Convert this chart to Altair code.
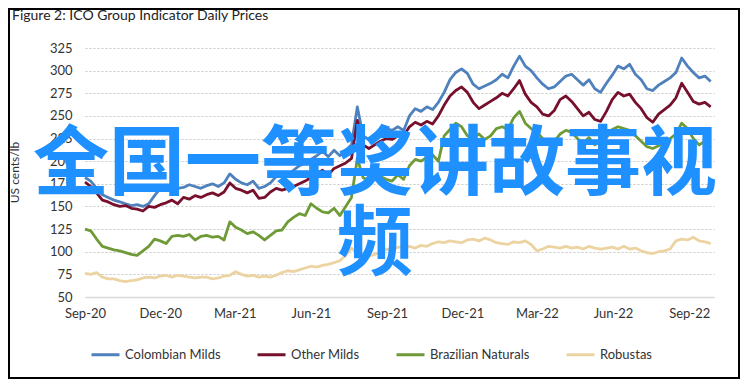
import altair as alt
import pandas as pd

# weekly samples starting 2020-09-01
n_points = 109
dates = pd.date_range("2020-09-01", periods=n_points, freq="7D").strftime("%Y-%m-%d").tolist()

series_names = ["Colombian Milds", "Other Milds", "Brazilian Naturals", "Robustas"]
series_colors = ["#4F81BD", "#76102C", "#6E9B38", "#ECD4A2"]

colombian = [
    182, 178, 170, 163, 160, 157, 155, 153, 151, 152,
    150, 153, 162, 170, 168, 172, 170, 171, 174, 172,
    170, 173, 175, 172, 176, 186, 180, 176, 174, 178,
    170, 172, 176, 183, 186, 185, 190, 195, 198, 202,
    206, 211, 205, 212, 206, 212, 218, 260, 228, 224,
    228, 232, 236, 234, 238, 234, 250, 258, 255, 260,
    257, 265, 276, 290, 298, 302, 297, 285, 280, 283,
    286, 290, 296, 292, 305, 316, 305, 300, 292, 285,
    280, 282, 288, 294, 296, 290, 284, 290, 280, 276,
    286, 295, 305, 302, 307, 296, 290, 280, 278, 284,
    288, 292, 298, 314, 305, 298, 292, 294, 288,
]
other = [
    177, 172, 165, 157, 155, 152, 150, 151, 148, 147,
    145, 150, 149, 152, 154, 157, 153, 160, 158, 162,
    160, 163, 165, 162, 166, 176, 170, 168, 165, 168,
    159, 160, 166, 170, 168, 170, 172, 175, 178, 182,
    186, 190, 185, 192, 195, 198, 203, 245, 218, 214,
    218, 222, 225, 224, 228, 228, 238, 243, 240, 244,
    241, 250, 262, 272, 278, 282, 276, 265, 258, 262,
    266, 270, 275, 272, 280, 289, 274, 265, 260, 252,
    250, 256, 268, 272, 266, 258, 250, 254, 246, 244,
    255, 268, 276, 272, 274, 265, 258, 248, 243, 252,
    257, 262, 270, 286, 276, 266, 263, 265, 260,
]
brazilian = [
    125, 123, 114, 106, 104, 102, 101, 99, 97, 96,
    101, 106, 114, 112, 109, 117, 118, 117, 119, 113,
    117, 118, 116, 117, 113, 133, 127, 124, 120, 122,
    118, 113, 118, 123, 124, 133, 138, 142, 140, 153,
    148, 144, 143, 148, 140, 150, 160, 203, 182, 178,
    182, 183, 180, 178, 185, 180, 195, 202, 200, 204,
    207, 200, 228, 235, 242, 238, 228, 226, 230, 224,
    228, 236, 238, 235, 248, 255, 242, 236, 232, 225,
    218, 222, 230, 234, 232, 225, 220, 226, 218, 222,
    226, 235, 238, 236, 234, 228, 222, 216, 214, 217,
    222, 225, 230, 242, 236, 225, 218, 222, 215,
]
robustas = [
    76, 75, 77, 72, 70, 70, 68, 67, 68, 69,
    71, 72, 71, 73, 74, 72, 74, 73, 72, 71,
    72, 72, 70, 71, 73, 74, 78, 75, 73, 74,
    72, 73, 72, 74, 77, 79, 78, 80, 82, 84,
    83, 85, 86, 88, 90, 96, 104, 98, 93, 95,
    97, 100, 103, 102, 105, 105, 106, 104, 107, 106,
    109, 111, 110, 112, 111, 110, 113, 114, 112, 115,
    113, 110, 109, 108, 111, 110, 112, 108, 101, 103,
    106, 105, 104, 106, 104, 105, 103, 106, 104, 103,
    104, 105, 103, 106, 103, 104, 101, 99, 98, 100,
    101, 103, 112, 114, 113, 116, 112, 111, 109,
]

y_ticks = [50, 75, 100, 125, 150, 175, 200, 225, 250, 275, 300, 325]
x_tick_months = [(2020, 9), (2020, 12), (2021, 3), (2021, 6), (2021, 9),
                 (2021, 12), (2022, 3), (2022, 6), (2022, 9)]

title_text = "Figure 2: ICO Group Indicator Daily Prices"
y_title = "US cents/lb"
overlay_lines = ["全国一等奖讲故事视", "频"]

rows = []
for name, vals in zip(series_names, [colombian, other, brazilian, robustas]):
    for d, v in zip(dates, vals):
        rows.append({"date": d, "series": name, "value": v})
df = pd.DataFrame(rows)

FONT = "Lato"
TXT = "#333333"

tick_dates = [alt.DateTime(year=y, month=m, date=1, utc=True) for y, m in x_tick_months]
x_domain = [alt.DateTime(year=2020, month=9, date=1, utc=True),
            alt.DateTime(year=2022, month=10, date=1, utc=True)]

lines = alt.Chart(df).mark_line(strokeWidth=2.8, strokeJoin="round").encode(
    x=alt.X("date:T",
            scale=alt.Scale(type="utc", domain=x_domain),
            axis=alt.Axis(values=tick_dates, format="%b-%y", title=None, grid=False,
                          ticks=False, domain=True, domainColor="#d9d9d9", domainWidth=1.5,
                          labelPadding=10, labelFontSize=13, labelColor=TXT, labelFont=FONT,
                          labelFlush=False)),
    y=alt.Y("value:Q",
            scale=alt.Scale(domain=[50, 325], nice=False, zero=False),
            axis=alt.Axis(values=y_ticks, grid=True, gridDash=[2, 2], gridColor="#c8c8c8",
                          gridWidth=1.2, domain=False, ticks=False, labelPadding=13,
                          labelFontSize=13, labelColor=TXT, labelFont=FONT,
                          title=y_title, titleFont=FONT, titleFontSize=12,
                          titleFontWeight="normal", titleColor=TXT, titleAngle=270,
                          titleX=-71, titleY=124, titleAlign="center",
                          titleBaseline="middle")),
    color=alt.Color("series:N",
                    scale=alt.Scale(domain=series_names, range=series_colors),
                    legend=alt.Legend(orient="none", legendX=5, legendY=291,
                                      direction="horizontal", title=None,
                                      symbolType="stroke", symbolSize=784,
                                      symbolStrokeWidth=3, labelFontSize=13,
                                      labelFont=FONT, labelColor=TXT,
                                      columnPadding=30, labelOffset=4, padding=0)),
)

one = pd.DataFrame({"k": [0]})

frame = alt.Chart(one).mark_rect(filled=False, stroke="#000000", strokeWidth=2).encode(
    x=alt.value(-76), x2=alt.value(654), y=alt.value(-39), y2=alt.value(330)
)

title = alt.Chart(pd.DataFrame({"t": [title_text]})).mark_text(
    align="left", baseline="middle", fontSize=14, font=FONT, color="#222222"
).encode(text="t:N", x=alt.value(-73), y=alt.value(-32))

ov1 = alt.Chart(pd.DataFrame({"t": [overlay_lines[0]]})).mark_text(
    align="center", baseline="middle", fontSize=76, font="Noto Sans CJK SC",
    fontWeight="bold", color="#1E90FF"
).encode(text="t:N", x=alt.value(290), y=alt.value(118))

ov2 = alt.Chart(pd.DataFrame({"t": [overlay_lines[1]]})).mark_text(
    align="center", baseline="middle", fontSize=76, font="Noto Sans CJK SC",
    fontWeight="bold", color="#1E90FF"
).encode(text="t:N", x=alt.value(290), y=alt.value(198))

chart = alt.layer(frame, lines, ov1, ov2, title).properties(
    width=629, height=249,
    padding={"left": 77, "top": 40, "right": 26, "bottom": 82},
    autosize=alt.AutoSizeParams(type="none"),
).configure_view(stroke=None)

chart.save("out.html", embed_options={"renderer": "svg", "actions": False})
